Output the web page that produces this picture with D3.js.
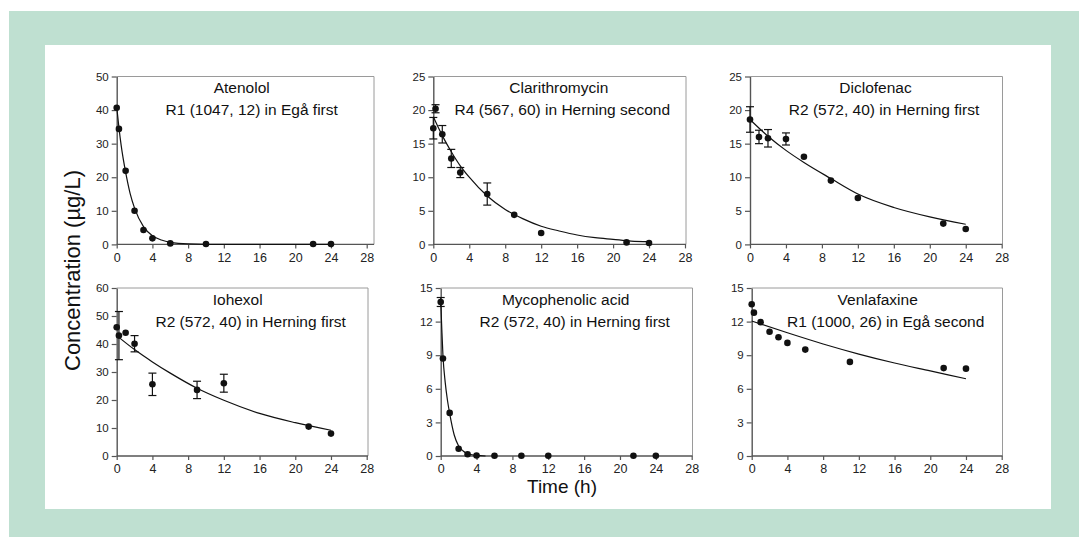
<!DOCTYPE html>
<html>
<head>
<meta charset="utf-8">
<script src="https://cdn.jsdelivr.net/npm/d3@7"></script>
<style>
body { margin: 0; background: #fff; }
text { font-family: Arial, "Liberation Sans", sans-serif; }
</style>
</head>
<body>
<div id="chart"></div>
<script>
// ---- data ----
var drugs = ['Atenolol', 'Clarithromycin', 'Diclofenac', 'Iohexol', 'Mycophenolic acid', 'Venlafaxine'];
var subtitles = ['R1 (1047, 12) in Egå first', 'R4 (567, 60) in Herning second', 'R2 (572, 40) in Herning first',
	'R2 (572, 40) in Herning first', 'R2 (572, 40) in Herning first', 'R1 (1000, 26) in Egå second'];
var xTicks = [0, 4, 8, 12, 16, 20, 24, 28];
var yTicks = [
	[0, 10, 20, 30, 40, 50],
	[0, 5, 10, 15, 20, 25],
	[0, 5, 10, 15, 20, 25],
	[0, 10, 20, 30, 40, 50, 60],
	[0, 3, 6, 9, 12, 15],
	[0, 3, 6, 9, 12, 15]
];

var atenololTime = [0, 0.25, 1, 2, 3, 4, 6, 10, 22, 24];
var atenololConc = [40.7, 34.4, 21.9, 10.0, 4.3, 1.8, 0.3, 0.1, 0.1, 0.1];
var atenololErr  = [0, 0, 0, 0, 0, 0, 0, 0, 0, 0];
var atenololFitTime = [0, 0.25, 0.5, 1, 1.5, 2, 3, 4, 5, 6, 8, 12, 24];
var atenololFitConc = [41, 34.8, 29.5, 21.5, 15.2, 10.8, 5.3, 2.6, 1.3, 0.6, 0.15, 0, 0];

var clariTime = [0, 0.25, 1, 2, 3, 6, 9, 12, 21.5, 24];
var clariConc = [17.3, 20.2, 16.4, 12.8, 10.7, 7.5, 4.4, 1.7, 0.3, 0.2];
var clariErr  = [1.6, 0.6, 1.3, 1.35, 0.75, 1.65, 0, 0, 0, 0];
var clariFitTime = [0, 1, 2, 3, 4, 6, 8, 10, 12, 14, 16, 18, 20, 22, 24];
var clariFitConc = [19.0, 16.2, 13.8, 11.7, 10.0, 7.2, 5.2, 3.8, 2.7, 2.0, 1.4, 1.0, 0.75, 0.5, 0.4];

var dicloTime = [0, 1, 2, 4, 6, 9, 12, 21.5, 24];
var dicloConc = [18.6, 16.0, 15.8, 15.7, 13.05, 9.5, 6.9, 3.1, 2.3];
var dicloErr  = [1.9, 1.0, 1.3, 0.9, 0, 0, 0, 0, 0];
var dicloFitTime = [0, 2, 4, 6, 9, 12, 16, 20, 24];
var dicloFitConc = [18.6, 16.1, 14.0, 12.2, 9.8, 7.5, 5.5, 4.1, 3.0];

var iohexolTime = [0, 0.25, 1, 2, 4, 9, 12, 21.5, 24];
var iohexolConc = [46.0, 43.0, 44.0, 40.1, 25.6, 23.6, 26.0, 10.5, 8.0];
var iohexolErr  = [0, 8.6, 0, 2.9, 4.0, 3.1, 3.2, 0, 0];
var iohexolFitTime = [0, 2, 4, 6, 9, 12, 16, 20, 24];
var iohexolFitConc = [43.0, 38.0, 33.6, 29.6, 24.2, 19.9, 15.2, 11.9, 9.2];

var mycoTime = [0, 0.25, 1, 2, 3, 4, 6, 9, 12, 21.5, 24];
var mycoConc = [13.75, 8.7, 3.85, 0.65, 0.15, 0.05, 0.02, 0.02, 0.02, 0.02, 0.02];
var mycoErr  = [0.4, 0, 0, 0, 0, 0, 0, 0, 0, 0, 0];
var mycoFitTime = [0, 0.125, 0.25, 0.5, 0.75, 1, 1.5, 2, 2.5, 3, 4, 5];
var mycoFitConc = [13.9, 11.3, 9.0, 6.6, 5.0, 3.8, 1.9, 0.9, 0.45, 0.2, 0.05, 0];

var venlaTime = [0, 0.25, 1, 2, 3, 4, 6, 11, 21.5, 24];
var venlaConc = [13.55, 12.8, 11.95, 11.1, 10.6, 10.1, 9.5, 8.4, 7.85, 7.8];
var venlaErr  = [0, 0, 0, 0, 0, 0, 0, 0, 0, 0];
var venlaFitTime = [0, 4, 8, 12, 16, 20, 24];
var venlaFitConc = [12.05, 11.0, 10.0, 9.1, 8.3, 7.6, 6.9];

var series = [
	[atenololTime, atenololConc, atenololErr, atenololFitTime, atenololFitConc],
	[clariTime, clariConc, clariErr, clariFitTime, clariFitConc],
	[dicloTime, dicloConc, dicloErr, dicloFitTime, dicloFitConc],
	[iohexolTime, iohexolConc, iohexolErr, iohexolFitTime, iohexolFitConc],
	[mycoTime, mycoConc, mycoErr, mycoFitTime, mycoFitConc],
	[venlaTime, venlaConc, venlaErr, venlaFitTime, venlaFitConc]
];

// ---- layout of the six panels ----
var layout = [
	{left: 116.7, right: 366.7, top: 76.5, bottom: 244.4, frame: 374, titleDx: 125, subDx: 135},
	{left: 433.3, right: 685, top: 76.5, bottom: 244.4, frame: 686, titleDx: 125.5, subDx: 129},
	{left: 750, right: 1001.7, top: 76.5, bottom: 244.4, frame: 1002.5, titleDx: 125.5, subDx: 134},
	{left: 116.7, right: 366.7, top: 288, bottom: 456, frame: 368, titleDx: 121, subDx: 134},
	{left: 440.7, right: 691.7, top: 288, bottom: 456, frame: 692.5, titleDx: 125, subDx: 134},
	{left: 751.7, right: 1001.7, top: 288, bottom: 456, frame: 1002.5, titleDx: 126, subDx: 134}
];

var W = 1079, H = 537;

var svg = d3.select('#chart').append('svg')
	.attr('width', W)
	.attr('height', H);

svg.append('rect').attr('width', W).attr('height', H).attr('fill', '#fff');
svg.append('rect').attr('x', 9).attr('y', 11).attr('width', W - 9).attr('height', H - 11).attr('fill', '#bfe0d1');
svg.append('rect').attr('x', 45).attr('y', 45).attr('width', 1006).attr('height', 464).attr('fill', '#fff');

series.forEach(function(s, i) {
	var L = layout[i];
	var yt = yTicks[i];

	var x = d3.scaleLinear().domain([0, 28]).range([L.left, L.right]);
	var y = d3.scaleLinear().domain([0, yt[yt.length - 1]]).range([L.bottom, L.top]);

	var g = svg.append('g');

	// thin frame on top and right
	g.append('path')
		.attr('d', 'M' + L.left + ',' + L.top + 'H' + L.frame + 'V' + L.bottom)
		.attr('fill', 'none')
		.attr('stroke', '#9a9a9a')
		.attr('stroke-width', 1);

	var xAxis = g.append('g')
		.attr('transform', 'translate(0,' + L.bottom + ')')
		.call(d3.axisBottom(x).tickValues(xTicks).tickSize(4).tickPadding(4.5).tickSizeOuter(0));
	xAxis.selectAll('text').style('font-size', '12.5px').attr('fill', '#222');

	var yAxis = g.append('g')
		.attr('transform', 'translate(' + L.left + ',0)')
		.call(d3.axisLeft(y).tickValues(yt).tickSize(5).tickPadding(3).tickSizeOuter(0));
	yAxis.selectAll('text').style('font-size', '11.5px').attr('fill', '#222');

	[xAxis, yAxis].forEach(function(a) {
		a.select('.domain').attr('stroke', '#555').attr('stroke-width', 1.4);
		a.selectAll('.tick line').attr('stroke', '#555').attr('stroke-width', 1.2);
	});
	// bottom axis stops at the frame end
	xAxis.select('.domain').attr('d', 'M' + L.left + ',0H' + L.frame);

	// fitted curve
	var fit = s[3].map(function(t, k) { return [t, s[4][k]]; });
	g.append('path')
		.datum(fit)
		.attr('fill', 'none')
		.attr('stroke', '#111')
		.attr('stroke-width', 1.2)
		.attr('d', d3.line()
			.x(function(d) { return x(d[0]); })
			.y(function(d) { return y(d[1]); })
			.curve(d3.curveMonotoneX));

	var pts = s[0].map(function(t, k) { return {t: t, c: s[1][k], e: s[2][k]}; });

	// error bars
	var eb = g.selectAll('.err').data(pts.filter(function(d) { return d.e > 0; }))
		.enter().append('g')
		.attr('stroke', '#111')
		.attr('stroke-width', 1.2);
	eb.append('line')
		.attr('x1', function(d) { return x(d.t); })
		.attr('x2', function(d) { return x(d.t); })
		.attr('y1', function(d) { return y(d.c - d.e); })
		.attr('y2', function(d) { return y(d.c + d.e); });
	[-1, 1].forEach(function(sign) {
		eb.append('line')
			.attr('x1', function(d) { return x(d.t) - 4; })
			.attr('x2', function(d) { return x(d.t) + 4; })
			.attr('y1', function(d) { return y(d.c + sign * d.e); })
			.attr('y2', function(d) { return y(d.c + sign * d.e); });
	});

	g.selectAll('circle').data(pts)
		.enter().append('circle')
		.attr('cx', function(d) { return x(d.t); })
		.attr('cy', function(d) { return y(d.c); })
		.attr('r', 3.3)
		.attr('fill', '#111');

	g.append('text')
		.attr('x', L.left + L.titleDx)
		.attr('y', L.top + 16.5)
		.attr('text-anchor', 'middle')
		.style('font-size', '15.5px')
		.attr('fill', '#111')
		.text(drugs[i]);

	g.append('text')
		.attr('x', L.left + L.subDx)
		.attr('y', L.top + 38.5)
		.attr('text-anchor', 'middle')
		.style('font-size', '15.5px')
		.attr('fill', '#111')
		.text(subtitles[i]);
});

svg.append('text')
	.attr('transform', 'translate(80,270.5) rotate(-90)')
	.attr('text-anchor', 'middle')
	.style('font-size', '22px')
	.attr('fill', '#111')
	.text('Concentration (µg/L)');

svg.append('text')
	.attr('x', 562)
	.attr('y', 493)
	.attr('text-anchor', 'middle')
	.style('font-size', '19px')
	.attr('fill', '#111')
	.text('Time (h)');
</script>
</body>
</html>
